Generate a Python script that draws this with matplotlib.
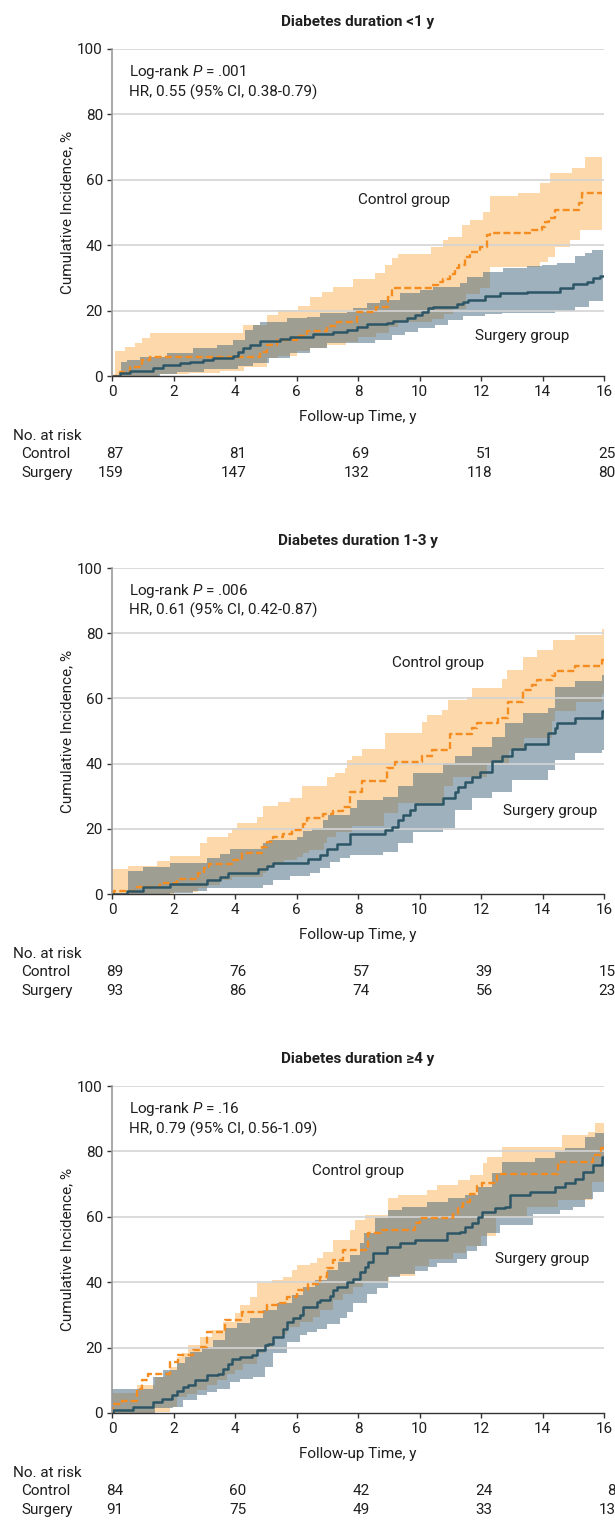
import numpy as np
import matplotlib
matplotlib.use("Agg")
import matplotlib.pyplot as plt

FAM = ['Roboto', 'DejaVu Sans']
plt.rcParams['font.family'] = FAM
plt.rcParams['mathtext.fontset'] = 'custom'
plt.rcParams['mathtext.rm'] = 'Roboto'
plt.rcParams['mathtext.it'] = 'Roboto:italic'
plt.rcParams['lines.scale_dashes'] = False

# ---------------- data ----------------
titles = ["Diabetes duration <1 y", "Diabetes duration 1-3 y", "Diabetes duration \u22654 y"]
logrank = [".001", ".006", ".16"]
hr_text = ["HR, 0.55 (95% CI, 0.38-0.79)", "HR, 0.61 (95% CI, 0.42-0.87)", "HR, 0.79 (95% CI, 0.56-1.09)"]

risk_times = [0, 4, 8, 12, 16]
risk_ctrl = [[87, 81, 69, 51, 25], [89, 76, 57, 39, 15], [84, 60, 42, 24, 8]]
risk_surg = [[159, 147, 132, 118, 80], [93, 86, 74, 56, 23], [91, 75, 49, 33, 13]]

# Panel 1 : control
c1_t = [0, 0.26, 0.59, 0.97, 1.24, 4.81, 5.03, 5.36, 6.0, 6.33, 6.98, 7.31, 7.96, 8.6, 8.98, 9.1, 10.4, 10.6,
        10.78, 11.0, 11.15, 11.3, 11.48, 11.64, 11.97, 12.19, 12.3, 13.65, 13.98, 14.08, 14.2, 14.4, 15.2, 15.28, 15.95]
c1_est = [0, 1.3, 2.9, 4.9, 5.9, 7.4, 9.5, 11.0, 12.3, 13.8, 15.3, 16.6, 19.7, 21.2, 24.3, 26.8, 27.8, 28.8,
          29.8, 31.3, 32.9, 33.9, 36.5, 38.0, 39.5, 43.1, 43.8, 44.8, 45.5, 47.2, 48.2, 50.8, 52.8, 55.9, 55.9]
c1_hi_t = [0.1, 0.42, 0.75, 0.97, 1.24, 4.27, 5.03, 5.41, 6.06, 6.44, 6.82, 7.2, 7.85, 8.55, 8.88, 9.09, 9.31,
           10.39, 10.77, 10.94, 11.37, 11.64, 12.08, 12.29, 13.21, 13.92, 14.24, 14.95, 15.38, 15.93]
c1_hi = [7.7, 8.9, 10.1, 11.7, 13.0, 15.5, 18.6, 20.3, 21.5, 24.2, 25.7, 27.1, 29.6, 31.4, 34.0, 36.0, 37.3,
         39.6, 41.6, 42.6, 46.2, 47.7, 50.3, 54.9, 55.9, 58.9, 62.0, 63.5, 67.1, 67.1]
c1_lo_t = [0.1, 1.5, 2.5, 3.5, 4.3, 5.03, 5.4, 6.0, 6.44, 7.0, 7.6, 8.0, 8.6, 9.0, 9.3, 10.4, 10.8, 11.1, 11.5,
           11.97, 12.29, 13.92, 14.19, 14.41, 14.89, 15.22, 15.93]
c1_lo = [0, 0.5, 1.0, 1.5, 2.9, 5.5, 6.2, 7.5, 8.5, 9.5, 10.5, 12.0, 13.0, 15.0, 16.5, 17.5, 19.0, 20.5, 25.0,
         27.0, 33.4, 35.0, 36.5, 39.6, 41.6, 44.6, 44.6]
# Panel 1 : surgery
s1_t = [0, 0.26, 0.59, 1.34, 1.67, 2.21, 2.54, 2.97, 3.30, 3.95, 4.11, 4.27, 4.49, 4.81, 5.46, 5.79, 6.55, 7.20,
        7.63, 7.96, 8.28, 8.93, 9.15, 9.58, 9.85, 10.07, 10.29, 10.45, 11.21, 11.43, 11.59, 12.13, 12.62, 13.49,
        14.57, 15.0, 15.44, 15.65, 15.87, 15.98]
s1_est = [0, 0.8, 1.6, 2.3, 3.4, 3.9, 4.4, 4.9, 5.4, 6.1, 7.4, 8.5, 9.5, 10.8, 11.2, 12.0, 12.7, 13.4, 14.1, 15.1,
          15.9, 16.3, 16.9, 17.6, 18.7, 19.7, 20.7, 21.2, 22.0, 22.7, 23.2, 24.5, 25.3, 25.8, 26.8, 28.1, 28.8,
          29.9, 30.6, 30.6]
s1_hi_t = [0.28, 0.48, 0.91, 1.78, 2.64, 3.40, 3.95, 4.33, 4.60, 4.81, 5.68, 6.33, 6.76, 7.63, 7.85, 8.28, 8.72,
           9.37, 10.02, 10.45, 11.32, 11.53, 12.08, 12.73, 13.50, 13.98, 14.47, 15.06, 15.38, 15.60, 15.98]
s1_hi = [4.4, 4.9, 5.9, 7.1, 8.5, 9.5, 11.0, 14.1, 15.6, 16.6, 17.6, 18.1, 19.2, 19.7, 20.7, 22.2, 23.2, 25.3,
         26.3, 27.3, 28.3, 30.4, 31.9, 33.0, 33.5, 34.0, 34.6, 36.6, 37.6, 38.5, 38.5]
s1_lo_t = [0.28, 1.56, 2.10, 3.00, 4.10, 4.60, 5.10, 5.80, 6.44, 7.00, 8.55, 9.09, 9.53, 9.96, 10.50, 10.94,
           11.43, 12.13, 12.67, 14.40, 15.06, 15.50, 15.98]
s1_lo = [0, 0.5, 1.2, 2.0, 3.0, 4.0, 5.5, 7.0, 8.5, 10.0, 11.0, 12.6, 13.6, 14.6, 15.6, 17.1, 18.2, 19.0, 19.4,
         19.8, 21.2, 22.8, 22.8]

# Panel 2 : control
c2_t = [0, 0.05, 0.8, 1.56, 2.1, 2.81, 3.0, 3.14, 3.89, 4.22, 4.87, 5.03, 5.25, 5.57, 5.84, 6.22, 6.33, 6.87,
        7.2, 7.52, 7.74, 8.12, 8.93, 9.2, 10.07, 10.4, 10.99, 11.7, 11.86, 12.56, 12.89, 13.38, 13.65, 13.81,
        14.3, 14.41, 15.06, 15.93, 16.0]
c2_est = [0, 0.9, 2.3, 3.3, 4.5, 6.3, 7.9, 9.2, 10.4, 12.6, 14.5, 16.1, 17.4, 18.4, 19.6, 21.6, 23.2, 24.4,
          25.5, 26.7, 31.4, 34.6, 38.7, 40.5, 42.2, 44.2, 49.1, 50.8, 52.6, 53.9, 58.8, 62.6, 64.0, 65.6,
          66.9, 68.5, 69.9, 71.8, 71.8]
c2_hi_t = [0, 0.53, 1.45, 1.89, 2.86, 3.08, 3.78, 3.89, 4.05, 4.70, 4.92, 5.41, 5.79, 6.17, 6.98, 7.25, 7.58,
           7.65, 7.79, 8.12, 8.88, 10.07, 10.23, 10.72, 10.94, 11.53, 11.70, 12.67, 12.84, 13.38, 13.81, 14.35,
           15.06, 15.93, 16.0]
c2_hi = [7.7, 8.6, 10.2, 11.7, 15.6, 17.4, 18.8, 20.2, 21.7, 23.5, 27.0, 28.3, 29.6, 33.2, 36.0, 37.2, 38.5,
         41.1, 42.3, 44.6, 49.3, 52.9, 54.9, 56.4, 59.5, 60.5, 63.1, 65.9, 68.7, 72.8, 74.8, 77.9, 79.4, 81.2, 81.2]
c2_lo_t = [0, 2.0, 2.8, 3.1, 3.5, 3.9, 4.9, 5.0, 5.3, 5.6, 6.0, 6.2, 6.4, 6.9, 7.0, 7.3, 7.8, 8.85, 9.3, 10.8,
           11.1, 12.2, 12.9, 13.4, 14.3, 14.4, 15.1, 15.93, 16.0]
c2_lo = [0, 0.6, 1.8, 2.7, 4.2, 5.3, 6.3, 7.9, 8.9, 10.4, 11.5, 12.5, 13.5, 15.6, 17.6, 19.0, 21.0, 25.0, 28.0,
         33.0, 36.0, 40.0, 44.0, 48.0, 53.0, 56.0, 59.0, 61.5, 61.5]
# Panel 2 : surgery
s2_t = [0, 0.48, 1.02, 1.89, 3.08, 3.51, 3.78, 4.76, 5.03, 5.25, 6.38, 6.76, 6.98, 7.31, 7.74, 8.88, 9.09, 9.31,
        9.47, 9.69, 9.85, 10.77, 11.15, 11.26, 11.48, 11.70, 11.97, 12.35, 12.67, 13.0, 13.43, 14.19, 14.41,
        14.46, 15.06, 15.93, 16.0]
s2_est = [0, 0.9, 2.0, 3.1, 4.2, 5.3, 6.3, 7.6, 8.6, 9.6, 10.6, 12.0, 13.7, 15.4, 18.4, 19.6, 20.6, 22.6, 24.2,
          25.7, 27.5, 29.3, 31.4, 32.9, 34.4, 36.0, 37.3, 40.8, 42.2, 44.4, 46.1, 49.3, 51.0, 52.6, 53.9, 56.0, 56.0]
s2_hi_t = [0.53, 1.02, 1.89, 3.08, 3.51, 3.84, 4.92, 5.09, 6.01, 6.22, 6.49, 6.87, 7.04, 7.74, 7.96, 8.82, 9.31,
           9.80, 10.77, 11.15, 11.70, 12.35, 12.78, 13.38, 14.19, 14.41, 15.06, 15.93, 16.0]
s2_hi = [7.1, 8.2, 9.6, 11.0, 12.3, 13.7, 15.6, 16.6, 17.6, 19.2, 20.2, 22.7, 24.3, 26.3, 28.8, 29.9, 33.0, 37.2,
         40.1, 42.2, 45.2, 48.3, 52.4, 55.5, 57.0, 63.6, 65.2, 67.2, 67.2]
s2_lo_t = [0.53, 1.89, 2.65, 3.08, 4.92, 5.25, 5.79, 6.44, 6.76, 7.09, 7.41, 7.74, 8.82, 9.31, 9.80, 10.77, 11.15,
           11.70, 12.35, 13.0, 14.19, 14.41, 15.06, 15.93, 16.0]
s2_lo = [0, 0.3, 0.8, 1.8, 2.9, 4.4, 5.5, 6.5, 8.0, 9.7, 11.0, 12.0, 13.0, 15.5, 19.1, 20.1, 25.7, 29.3, 31.4,
         35.0, 38.0, 41.1, 43.2, 44.2, 44.2]

# Panel 3 : control
c3_t = [0, 0.04, 0.31, 0.80, 0.96, 1.18, 1.89, 2.16, 2.64, 2.86, 3.08, 3.67, 4.22, 5.03, 5.46, 5.68, 6.01, 6.38,
        6.76, 6.98, 7.20, 7.52, 8.34, 8.72, 9.85, 10.02, 11.10, 11.26, 11.43, 11.64, 11.86, 12.02, 12.51, 14.52,
        15.65, 15.9, 16.0]
c3_est = [0, 2.9, 3.7, 7.4, 10.0, 11.8, 15.6, 17.7, 19.2, 20.2, 24.8, 28.4, 30.9, 33.0, 33.7, 35.5, 37.6, 39.6,
          41.6, 44.2, 46.7, 49.8, 54.9, 55.9, 58.0, 59.5, 61.0, 63.1, 64.6, 67.1, 69.4, 70.4, 73.1, 76.8, 78.9,
          80.9, 80.9]
c3_hi_t = [0, 0.8, 1.4, 1.72, 1.89, 2.1, 2.27, 2.48, 2.86, 3.24, 3.62, 4.0, 4.16, 4.49, 4.71, 5.19, 5.57, 5.84,
           6.0, 6.44, 6.66, 6.87, 7.2, 7.74, 7.9, 8.23, 8.99, 9.31, 10.23, 10.56, 11.26, 11.64, 12.08, 12.19, 12.67,
           14.65, 15.49, 15.71, 16.0]
c3_hi = [6.0, 8.5, 11.1, 12.6, 14.2, 17.2, 18.2, 20.7, 23.3, 25.4, 27.9, 30.5, 33.0, 35.6, 39.7, 40.7, 41.7,
         43.7, 45.3, 45.8, 47.3, 49.3, 52.9, 56.0, 58.9, 60.5, 65.6, 66.6, 68.2, 69.7, 71.2, 72.8, 76.3, 78.4,
         81.4, 85.0, 86.0, 88.6, 88.6]
c3_lo_t = [0, 1.4, 1.89, 2.1, 2.43, 2.75, 3.08, 3.4, 3.73, 4.0, 4.27, 4.7, 4.98, 5.25, 5.52, 5.68, 6.11, 6.55,
           6.76, 7.2, 7.52, 7.85, 8.17, 9.0, 9.85, 10.3, 11.1, 11.5, 12.0, 12.5, 13.5, 14.5, 15.6, 16.0]
c3_lo = [0, 0.3, 1.8, 4.9, 5.9, 6.9, 8.5, 10.0, 12.0, 13.0, 15.1, 18.2, 19.7, 22.8, 24.3, 26.3, 27.9, 29.4,
         31.4, 34.5, 36.5, 38.6, 40.0, 42.0, 45.0, 47.0, 49.0, 51.0, 54.0, 60.0, 63.0, 65.0, 70.7, 70.7]
# Panel 3 : surgery
s3_t = [0, 0.04, 0.69, 1.34, 1.62, 1.94, 2.10, 2.32, 2.48, 2.70, 3.08, 3.46, 3.62, 3.78, 3.89, 4.16, 4.54, 4.70,
        4.98, 5.08, 5.25, 5.57, 5.68, 5.90, 6.11, 6.22, 6.66, 6.76, 7.09, 7.20, 7.31, 7.63, 7.85, 8.07, 8.23,
        8.34, 8.50, 8.93, 9.37, 9.85, 10.88, 11.32, 11.48, 11.70, 11.91, 12.02, 12.46, 12.78, 12.94, 13.59,
        14.41, 14.73, 15.06, 15.33, 15.65, 15.95, 16.0]
s3_est = [0, 0.8, 1.8, 3.4, 4.4, 5.4, 6.6, 7.8, 8.5, 10.0, 11.5, 12.0, 13.6, 15.1, 16.6, 17.1, 17.7, 19.2, 20.7,
          21.2, 23.3, 25.8, 27.9, 28.9, 29.9, 32.4, 34.0, 34.7, 35.7, 37.6, 38.6, 40.1, 41.1, 43.2, 44.7, 46.2,
          48.8, 50.8, 52.0, 52.9, 54.9, 55.4, 56.9, 58.0, 60.0, 61.5, 62.6, 63.1, 66.6, 67.7, 69.2, 70.2, 71.7,
          73.8, 75.8, 78.4, 78.4]
s3_hi_t = [0, 1.34, 1.67, 2.1, 2.38, 2.54, 2.92, 3.3, 3.68, 4.05, 4.49, 4.92, 5.35, 5.84, 6.22, 6.6, 6.98, 7.36,
           7.74, 8.07, 8.2, 8.55, 8.99, 9.42, 10.23, 10.94, 11.48, 11.91, 12.35, 12.67, 13.76, 14.41, 14.73,
           15.38, 15.71, 16.0]
s3_hi = [7.4, 11.1, 13.2, 15.2, 17.2, 18.8, 20.3, 22.3, 25.9, 27.4, 28.9, 31.5, 33.5, 36.1, 38.6, 40.7, 43.7,
         46.3, 48.3, 52.0, 55.0, 59.5, 62.0, 63.1, 64.6, 65.6, 66.6, 69.2, 73.3, 76.8, 77.9, 79.9, 80.9, 84.5,
         85.5, 85.5]
s3_lo_t = [0, 1.4, 1.99, 2.32, 2.75, 3.08, 3.4, 3.84, 4.16, 4.59, 4.98, 5.25, 5.68, 6.11, 6.33, 6.66, 6.98, 7.41,
           7.63, 7.85, 8.28, 8.61, 8.99, 9.37, 9.85, 10.29, 10.56, 11.21, 11.53, 11.86, 12.18, 12.62, 13.7, 14.57,
           15.0, 15.38, 15.65, 16.0]
s3_lo = [0, 1.5, 1.8, 3.9, 5.4, 6.4, 7.4, 9.5, 10.5, 11.0, 14.1, 18.2, 21.7, 23.8, 24.8, 25.8, 27.3, 28.9, 30.9,
         33.5, 36.5, 38.1, 41.5, 42.5, 43.5, 44.5, 46.0, 47.0, 49.5, 51.0, 55.0, 57.5, 61.0, 62.0, 63.0, 65.5,
         67.7, 67.7]

panels = [
    dict(c=(c1_t, c1_est, c1_lo_t, c1_lo, c1_hi_t, c1_hi), s=(s1_t, s1_est, s1_lo_t, s1_lo, s1_hi_t, s1_hi),
         ctrl_lab=(8.0, 53.8), surg_lab=(11.8, 12.2)),
    dict(c=(c2_t, c2_est, c2_lo_t, c2_lo, c2_hi_t, c2_hi), s=(s2_t, s2_est, s2_lo_t, s2_lo, s2_hi_t, s2_hi),
         ctrl_lab=(9.1, 70.9), surg_lab=(12.7, 25.5)),
    dict(c=(c3_t, c3_est, c3_lo_t, c3_lo, c3_hi_t, c3_hi), s=(s3_t, s3_est, s3_lo_t, s3_lo, s3_hi_t, s3_hi),
         ctrl_lab=(6.5, 74.0), surg_lab=(12.45, 47.0)),
]

# ---------------- style ----------------
ORANGE = '#F58C1F'
ORANGE_BAND = '#FDD8AA'
BLUE_LINE = '#2C5666'
BLUE_BAND = '#41657D'
TXT = '#1e1e1e'
FS = 11

W, H = 615, 1539
fig = plt.figure(figsize=(W / 100, H / 100), dpi=100)
axes_px = [(49, 376), (568, 894), (1086, 1413)]


def band(ax, t_lo, lo, t_hi, hi, **kw):
    t_lo = np.asarray(t_lo); t_hi = np.asarray(t_hi)
    t = np.union1d(t_lo, t_hi)
    lo_v = np.asarray(lo)[np.searchsorted(t_lo, t, side='right') - 1]
    hi_v = np.asarray(hi)[np.searchsorted(t_hi, t, side='right') - 1]
    ax.fill_between(t, lo_v, hi_v, step='post', linewidth=0, **kw)


for i, (top, bot) in enumerate(axes_px):
    ax = fig.add_axes([112 / W, 1 - bot / H, 492 / W, (bot - top) / H])
    p = panels[i]
    ct, ce, clt, cl, cht, ch = p['c']
    st, se, slt, sl, sht, sh = p['s']

    band(ax, clt, cl, cht, ch, color=ORANGE_BAND, zorder=1)
    band(ax, slt, sl, sht, sh, color=BLUE_BAND, alpha=0.5, zorder=2)

    for gy in [20, 40, 60, 80, 100]:
        ax.axhline(gy, color='#d4d4d4', lw=1.2, zorder=2.5)

    ax.step(ct, ce, where='post', color=ORANGE, lw=1.7, dashes=(5.0, 2.4), zorder=4)
    ax.step(st, se, where='post', color=BLUE_LINE, lw=1.8, zorder=5)

    ax.set_xlim(0, 16)
    ax.set_ylim(0, 100)
    ax.set_xticks(range(0, 17, 2))
    ax.set_yticks(range(0, 101, 20))
    for sp in ['top', 'right']:
        ax.spines[sp].set_visible(False)
    ax.spines['left'].set_color('#9a9a9a')
    ax.spines['left'].set_linewidth(1.2)
    ax.spines['bottom'].set_color('#333333')
    ax.spines['bottom'].set_linewidth(1.0)
    ax.spines['left'].set_zorder(6)
    ax.spines['bottom'].set_zorder(6)
    ax.tick_params(axis='both', direction='out', length=3.5, width=1.0, color='#333333',
                   labelsize=FS, labelcolor=TXT, pad=3)

    ax.text(-0.09, 0.5, "Cumulative Incidence, %", transform=ax.transAxes, rotation=90,
            ha='center', va='center', fontsize=FS, color=TXT)
    ax.text(0.5, -41 / 327, "Follow-up Time, y", transform=ax.transAxes,
            ha='center', va='center', fontsize=FS, color=TXT)
    ax.text(0.5, 1 + 27 / 327, titles[i], transform=ax.transAxes,
            ha='center', va='center', fontsize=FS, fontweight='bold', color=TXT)

    ax.text(0.55, 93, "Log-rank $P$ = " + logrank[i], ha='left', va='center', fontsize=FS, color=TXT)
    ax.text(0.55, 86.9, hr_text[i], ha='left', va='center', fontsize=FS, color=TXT)
    ax.text(p['ctrl_lab'][0], p['ctrl_lab'][1], "Control group", ha='left', va='center', fontsize=FS, color=TXT)
    ax.text(p['surg_lab'][0], p['surg_lab'][1], "Surgery group", ha='left', va='center', fontsize=FS, color=TXT)

    # number at risk table
    h = bot - top
    trans_fig_x = matplotlib.transforms.blended_transform_factory(fig.transFigure, ax.transAxes)
    trans_dat_x = matplotlib.transforms.blended_transform_factory(ax.transData, ax.transAxes)
    ax.text(13 / W, -60 / h, "No. at risk", transform=trans_fig_x, ha='left', va='center', fontsize=FS, color=TXT)
    ax.text(21 / W, -78 / h, "Control", transform=trans_fig_x, ha='left', va='center', fontsize=FS, color=TXT)
    ax.text(21 / W, -97 / h, "Surgery", transform=trans_fig_x, ha='left', va='center', fontsize=FS, color=TXT)
    for tx, nc, ns in zip(risk_times, risk_ctrl[i], risk_surg[i]):
        ax.text(tx + 0.38, -78 / h, str(nc), transform=trans_dat_x, ha='right', va='center',
                fontsize=FS, color=TXT, clip_on=False)
        ax.text(tx + 0.38, -97 / h, str(ns), transform=trans_dat_x, ha='right', va='center',
                fontsize=FS, color=TXT, clip_on=False)

fig.savefig("out.png", dpi=100)
